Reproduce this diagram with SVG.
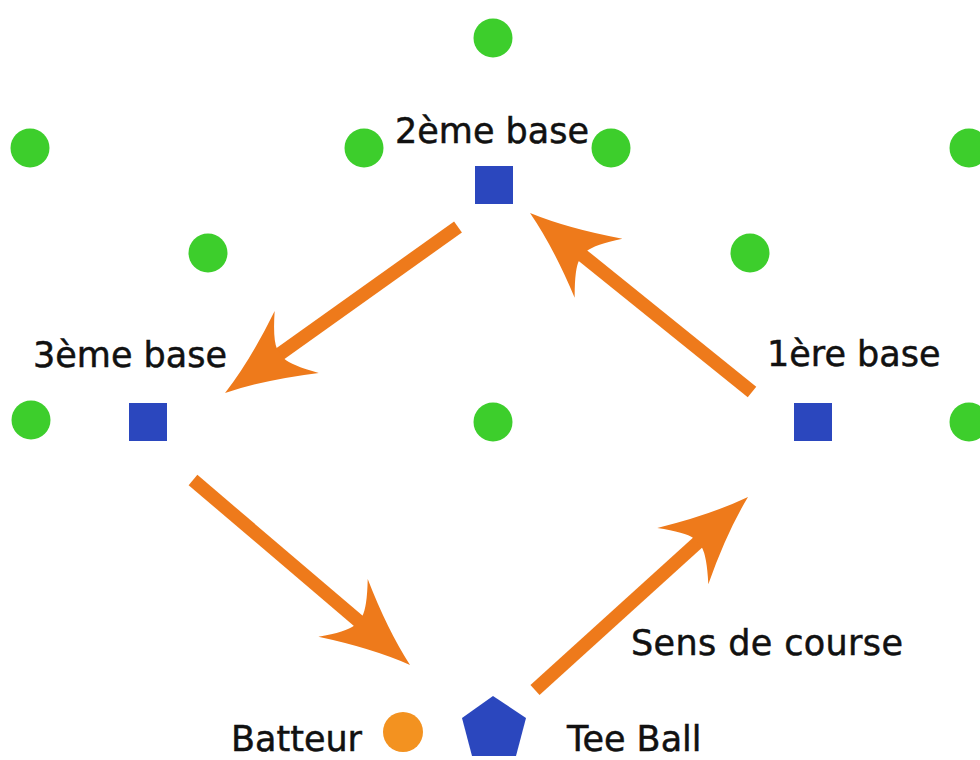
<svg xmlns="http://www.w3.org/2000/svg" width="980" height="760" viewBox="0 0 980 760">
<style>
.fielder{fill:#3dce2c}
.base{fill:#2b47be}
.lbl{font-family:"DejaVu Sans","Verdana",sans-serif;font-size:35px;fill:#111;stroke:#111;stroke-width:0.5}
.run{stroke:#ee7a1b;stroke-width:13.5;fill:none;stroke-linecap:butt}
</style>
<defs>
<marker id="head" viewBox="0 0 92 76" refX="24" refY="38" markerWidth="92" markerHeight="76" markerUnits="userSpaceOnUse" orient="auto" overflow="visible">
<path d="M90,38 Q50,26 2,0 Q20,22 22,32 L22,44 Q20,54 2,76 Q50,50 90,38 Z" fill="#ee7a1b"/>
</marker>
</defs>
<rect width="980" height="760" fill="#fff"/>
<g id="fielders">
<circle class="fielder" cx="493" cy="38" r="19.5"/>
<circle class="fielder" cx="30" cy="148" r="19.5"/>
<circle class="fielder" cx="364" cy="148" r="19.5"/>
<circle class="fielder" cx="611" cy="148" r="19.5"/>
<circle class="fielder" cx="969" cy="148" r="19.5"/>
<circle class="fielder" cx="208" cy="253" r="19.5"/>
<circle class="fielder" cx="750" cy="253" r="19.5"/>
<circle class="fielder" cx="31" cy="420" r="19.5"/>
<circle class="fielder" cx="493" cy="422" r="19.5"/>
<circle class="fielder" cx="969" cy="422" r="19.5"/>
</g>
<g id="base2">
<rect class="base" x="475" y="166" width="38" height="38"/>
<text class="lbl" x="395" y="143">2ème base</text>
</g>
<g id="base3">
<rect class="base" x="129" y="403" width="38" height="38"/>
<text class="lbl" x="33" y="367">3ème base</text>
</g>
<g id="base1">
<rect class="base" x="794" y="403" width="38" height="38"/>
<text class="lbl" x="767" y="366">1ère base</text>
</g>
<g id="teeball">
<polygon class="base" points="493,696 526,718 516,756 472,756 462,718"/>
<text class="lbl" x="567" y="751">Tee Ball</text>
</g>
<g id="batteur">
<circle cx="403" cy="732" r="20" fill="#f39220"/>
<text class="lbl" x="231" y="751">Batteur</text>
</g>
<g id="connectors">
<line class="run" x1="458" y1="227" x2="278.8" y2="354.7" marker-end="url(#head)"/>
<line class="run" x1="752" y1="392" x2="581.4" y2="254.4" marker-end="url(#head)"/>
<line class="run" x1="193" y1="480" x2="359.8" y2="622.2" marker-end="url(#head)"/>
<line class="run" x1="535" y1="690" x2="699.1" y2="541.3" marker-end="url(#head)"/>
</g>
<g id="legend">
<text class="lbl" x="631" y="655" textLength="272">Sens de course</text>
</g>
</svg>
